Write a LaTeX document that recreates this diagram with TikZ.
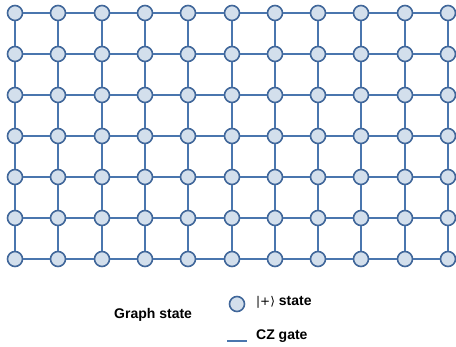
\documentclass[tikz,border=0pt]{standalone}
\usepackage{fontspec}
\setmainfont{Liberation Sans}
\newfontfamily\symfont{DejaVu Sans}
\definecolor{edgeblue}{HTML}{4A76AE}
\definecolor{qubitfill}{HTML}{D3DFEC}
\definecolor{qubitdraw}{HTML}{41679A}
\begin{document}
\begin{tikzpicture}[x=1pt,y=-1pt,
  qubit/.style={circle,draw=qubitdraw,line width=1.6pt,fill=qubitfill,minimum size=15pt,inner sep=0pt},
  czline/.style={draw=edgeblue,line width=2pt},
  legendtext/.style={font=\fontsize{14}{16}\selectfont\bfseries,inner sep=0pt,anchor=west}]
\useasboundingbox (0,0) rectangle (456,347);
% lattice of qubits on whole-pixel centres
\foreach \i in {0,...,10}{
  \foreach \j in {0,...,6}{
    \pgfmathtruncatemacro{\xx}{round(15+43.3*\i)}
    \node[qubit] (n-\i-\j) at (\xx,{13+41*\j}) {};
  }
}
% CZ edges between nearest neighbours
\foreach \i in {0,...,10}{
  \foreach \j [count=\k] in {0,...,5}{
    \draw[czline] (n-\i-\j) -- (n-\i-\k);
  }
}
\foreach \j in {0,...,6}{
  \foreach \i [count=\k] in {0,...,9}{
    \draw[czline] (n-\i-\j) -- (n-\k-\j);
  }
}
% legend
\node[legendtext] (gs) at (114,315) {Graph state};
\node[qubit] (lq) at (237,304) {};
\node[legendtext] (lqt) at (256,302) {{\symfont\mdseries\fontsize{12}{14}\selectfont|+⟩} state};
\coordinate (la) at (227,341);
\coordinate (lb) at (247,341);
\draw[czline] (la) -- (lb);
\node[legendtext] (lct) at (256,336) {CZ gate};
\end{tikzpicture}
\end{document}
